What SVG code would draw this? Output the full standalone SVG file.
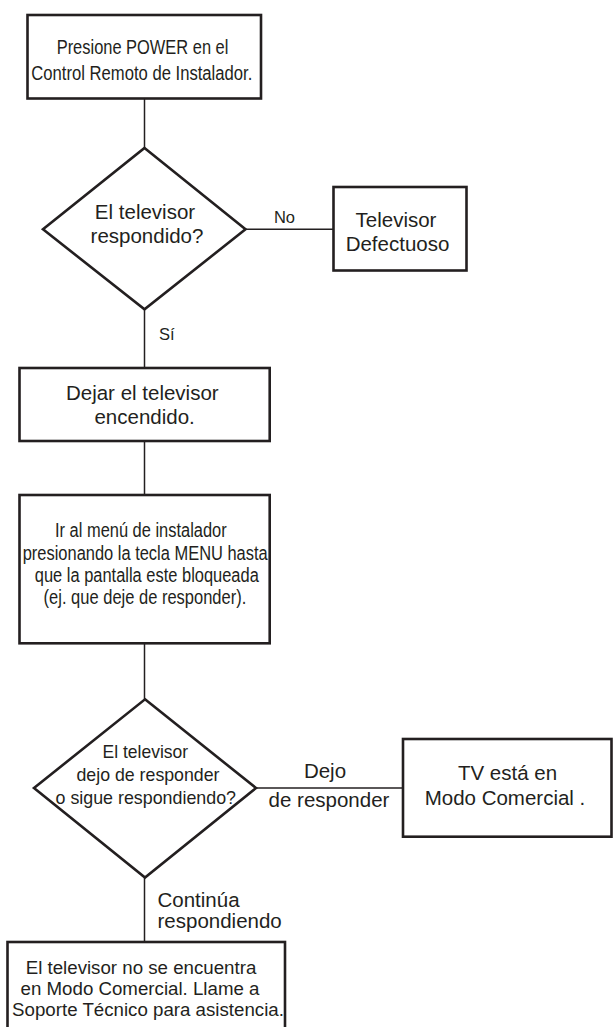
<svg xmlns="http://www.w3.org/2000/svg" width="613" height="1027" viewBox="0 0 613 1027">
<style>
.box{fill:#fff;stroke:#231f20;stroke-width:2.6}
.dia{fill:#fff;stroke:#231f20;stroke-width:2.6}
.con{fill:none;stroke:#231f20;stroke-width:1.5}
text{font-family:"Liberation Sans",Arial,sans-serif;fill:#231f20}
.t{font-size:20.5px;text-anchor:middle}
.c{font-size:19.5px}
.d2{font-size:18.6px}
.b{font-size:18.7px;text-anchor:middle}
.lbl{font-size:16.5px}
.el{font-size:20.5px}
</style>
<rect width="613" height="1027" fill="#fff"/>
<g id="connectors">
<line class="con" x1="144.5" y1="98.5" x2="144.5" y2="148"/>
<line class="con" x1="245.5" y1="229.3" x2="333.5" y2="229.3"/>
<line class="con" x1="144.5" y1="309.3" x2="144.5" y2="368"/>
<line class="con" x1="144.5" y1="441" x2="144.5" y2="495"/>
<line class="con" x1="144.5" y1="643.3" x2="144.5" y2="699.3"/>
<line class="con" x1="256" y1="788" x2="403" y2="788"/>
<line class="con" x1="144.5" y1="877.5" x2="144.5" y2="942"/>
<text class="lbl" x="284.5" y="223.3" text-anchor="middle">No</text>
<text class="lbl" x="159" y="339.5">Sí</text>
<text class="el" x="325" y="778" text-anchor="middle">Dejo</text>
<text class="el" x="329" y="806.5" text-anchor="middle">de responder</text>
<text class="el" x="157.5" y="906.5">Continúa</text>
<text class="el" x="157.5" y="927.5">respondiendo</text>
</g>
<g id="n1">
<rect class="box" x="27.5" y="15" width="233.5" height="83.5"/>
<text class="c" x="56.7" y="54" textLength="171.7" lengthAdjust="spacingAndGlyphs">Presione POWER en el</text>
<text class="c" x="31.3" y="79.5" textLength="221" lengthAdjust="spacingAndGlyphs">Control Remoto de Instalador.</text>
</g>
<g id="n2">
<polygon class="dia" points="144.5,148 245.5,229.3 144.5,309.3 43,229.3"/>
<text class="t" x="145" y="219">El televisor</text>
<text class="t" x="147" y="242.5">respondido?</text>
</g>
<g id="n3">
<rect class="box" x="333.5" y="187" width="133" height="83.5"/>
<text class="t" x="396" y="226.7">Televisor</text>
<text class="t" x="397.5" y="250.5">Defectuoso</text>
</g>
<g id="n4">
<rect class="box" x="19.5" y="368" width="250.2" height="73"/>
<text class="t" x="142.3" y="400">Dejar el televisor</text>
<text class="t" x="144.6" y="424">encendido.</text>
</g>
<g id="n5">
<rect class="box" x="19.5" y="495" width="250.2" height="148.3"/>
<text class="c" x="55" y="537" textLength="171.7" lengthAdjust="spacingAndGlyphs">Ir al menú de instalador</text>
<text class="c" x="22.7" y="560" textLength="245" lengthAdjust="spacingAndGlyphs">presionando la tecla MENU hasta</text>
<text class="c" x="34.8" y="582" textLength="224" lengthAdjust="spacingAndGlyphs">que la pantalla este bloqueada</text>
<text class="c" x="43.6" y="604" textLength="202.7" lengthAdjust="spacingAndGlyphs">(ej. que deje de responder).</text>
</g>
<g id="n6">
<polygon class="dia" points="145,699.3 256,788 145,877.5 34,788"/>
<text class="d2" x="102.6" y="758" textLength="85.5" lengthAdjust="spacingAndGlyphs">El televisor</text>
<text class="d2" x="76.5" y="781" textLength="143" lengthAdjust="spacingAndGlyphs">dejo de responder</text>
<text class="d2" x="55.5" y="804" textLength="180.5" lengthAdjust="spacingAndGlyphs">o sigue respondiendo?</text>
</g>
<g id="n7">
<rect class="box" x="403" y="739" width="208.5" height="97.7"/>
<text class="t" x="507.5" y="780">TV está en</text>
<text class="t" x="505" y="805">Modo Comercial .</text>
</g>
<g id="n8">
<rect class="box" x="7.5" y="942" width="277.5" height="100"/>
<text class="b" x="141" y="973.5">El televisor no se encuentra</text>
<text class="b" x="140" y="995">en Modo Comercial. Llame a</text>
<text class="b" x="148" y="1016">Soporte Técnico para asistencia.</text>
</g>
</svg>
